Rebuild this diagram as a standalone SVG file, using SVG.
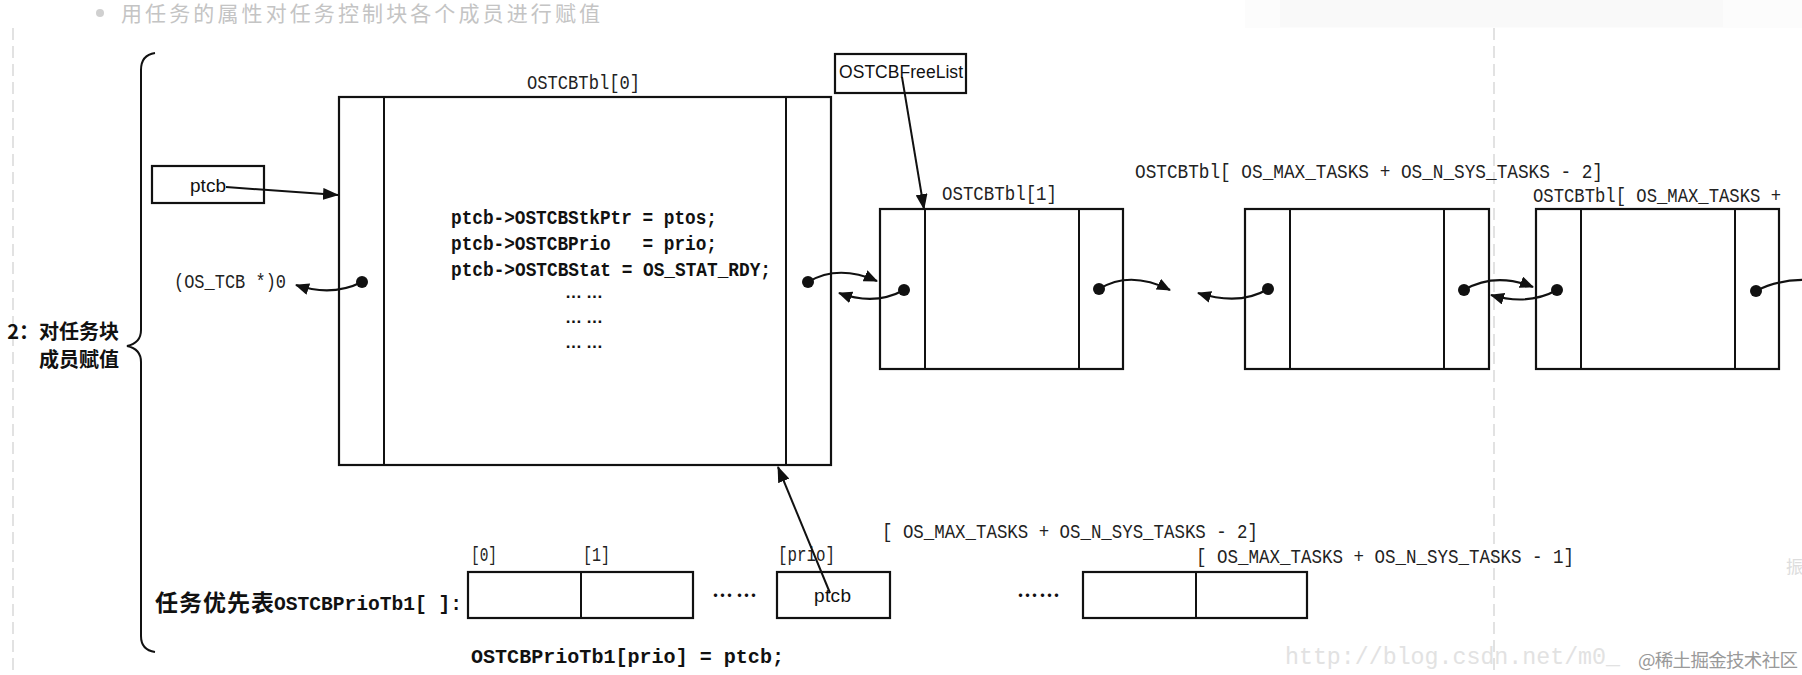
<svg xmlns="http://www.w3.org/2000/svg" width="1802" height="675" viewBox="0 0 1802 675">
<style>
.box{fill:none;stroke:#111;stroke-width:2.2}
.ln{fill:none;stroke:#111;stroke-width:2}
.cv{fill:none;stroke:#111;stroke-width:2.2}
.dash{stroke:#cfcfcf;stroke-width:1.2;stroke-dasharray:12 6}
.mono{font-family:"Liberation Mono",monospace;font-size:19.5px;fill:#222}
.code{font-family:"Liberation Mono",monospace;font-size:20px;font-weight:bold;fill:#111;white-space:pre}
.dots{font-family:"Liberation Sans",Arial,sans-serif;font-size:17px;font-weight:bold;fill:#111}
.sans{font-family:"Liberation Sans",Arial,sans-serif;fill:#111}
.cjk{font-family:"Noto Sans CJK SC",sans-serif}
</style>
<defs>
<marker id="ah" viewBox="0 0 16 12" refX="15" refY="6" markerWidth="16" markerHeight="12" markerUnits="userSpaceOnUse" orient="auto"><path d="M0,0 L16,6 L0,12 z" fill="#111"/></marker>
<marker id="ahs" viewBox="0 0 14 12" refX="13" refY="6" markerWidth="14" markerHeight="12" markerUnits="userSpaceOnUse" orient="auto"><path d="M0,0 L14,6 L0,12 z" fill="#111"/></marker>
</defs>
<rect width="1802" height="675" fill="#fff"/>
<rect x="1245" y="0" width="557" height="28" fill="#fcfcfc"/>
<rect x="1280" y="0" width="443" height="27" fill="#f9f9f9"/>
<g id="title">
<circle cx="100" cy="13" r="4" fill="#d0d0d0"/>
<text x="121" y="21" class="cjk" font-size="21" fill="#c4c4c4" textLength="479">用任务的属性对任务控制块各个成员进行赋值</text>
</g>
<line class="dash" x1="13" y1="28" x2="13" y2="675"/>
<line class="dash" x1="1494" y1="28" x2="1494" y2="675"/>
<g id="brace">
<path class="ln" d="M155,53 Q141,55 141,70 L141,330 Q141,343 127,346 Q141,349 141,362 L141,636 Q141,650 155,652"/>
<text x="119" y="339" class="cjk" font-size="20" font-weight="bold" fill="#111" text-anchor="end">2：对任务块</text>
<text x="119" y="367" class="cjk" font-size="20" font-weight="bold" fill="#111" text-anchor="end">成员赋值</text>
</g>
<g id="tbl0">
<rect class="box" x="339" y="97" width="492" height="368"/>
<line class="ln" x1="384" y1="97" x2="384" y2="465"/>
<line class="ln" x1="786" y1="97" x2="786" y2="465"/>
<text x="527" y="89" class="mono" textLength="113" lengthAdjust="spacingAndGlyphs">OSTCBTbl[0]</text>
<text x="451" y="224" class="code" textLength="266" lengthAdjust="spacingAndGlyphs">ptcb-&gt;OSTCBStkPtr = ptos;</text>
<text x="451" y="250" class="code" textLength="266" lengthAdjust="spacingAndGlyphs">ptcb-&gt;OSTCBPrio   = prio;</text>
<text x="451" y="276" class="code" textLength="320" lengthAdjust="spacingAndGlyphs">ptcb-&gt;OSTCBStat = OS_STAT_RDY;</text>
<text x="565" y="298" class="dots" textLength="38">……</text>
<text x="565" y="323" class="dots" textLength="38">……</text>
<text x="565" y="348" class="dots" textLength="38">……</text>
</g>
<g id="ptcb">
<rect class="box" x="152" y="166" width="112" height="37"/>
<text x="190" y="192" class="sans" font-size="19" textLength="36">ptcb</text>
</g>
<g id="null">
<text x="174" y="288" class="mono" textLength="112" lengthAdjust="spacingAndGlyphs">(OS_TCB *)0</text>
</g>
<g id="freelist">
<rect class="box" x="835" y="54" width="131" height="39"/>
<text x="839" y="78" class="sans" font-size="17.5" textLength="124">OSTCBFreeList</text>
</g>
<g id="tbl1">
<rect class="box" x="880" y="209" width="243" height="160"/>
<line class="ln" x1="925" y1="209" x2="925" y2="369"/>
<line class="ln" x1="1079" y1="209" x2="1079" y2="369"/>
<text x="942" y="200" class="mono" textLength="115" lengthAdjust="spacingAndGlyphs">OSTCBTbl[1]</text>
</g>
<g id="tbl2">
<rect class="box" x="1245" y="209" width="244" height="160"/>
<line class="ln" x1="1290" y1="209" x2="1290" y2="369"/>
<line class="ln" x1="1444" y1="209" x2="1444" y2="369"/>
<text x="1135" y="178" class="mono" textLength="468" lengthAdjust="spacingAndGlyphs">OSTCBTbl[ OS_MAX_TASKS + OS_N_SYS_TASKS - 2]</text>
</g>
<g id="tbl3">
<rect class="box" x="1536" y="209" width="243" height="160"/>
<line class="ln" x1="1581" y1="209" x2="1581" y2="369"/>
<line class="ln" x1="1735" y1="209" x2="1735" y2="369"/>
<text x="1533" y="202" class="mono" font-size="17" textLength="248" lengthAdjust="spacingAndGlyphs">OSTCBTbl[ OS_MAX_TASKS +</text>
</g>
<g id="priotbl">
<text x="155" y="611" class="cjk" font-size="23" font-weight="bold" fill="#111" textLength="119">任务优先表</text>
<text x="274" y="610" class="code" font-size="21" textLength="188" lengthAdjust="spacingAndGlyphs">OSTCBPrioTb1[ ]:</text>
<rect class="box" x="468" y="572" width="225" height="46"/>
<line class="ln" x1="581" y1="572" x2="581" y2="618"/>
<text x="471" y="561" class="mono" font-size="17" textLength="26" lengthAdjust="spacingAndGlyphs">[0]</text>
<text x="583" y="561" class="mono" font-size="17" textLength="27" lengthAdjust="spacingAndGlyphs">[1]</text>
<text x="712" y="603" class="cjk" font-size="21" font-weight="bold" fill="#111" textLength="45">……</text>
<rect class="box" x="777" y="572" width="113" height="46"/>
<text x="778" y="561" class="mono" font-size="17" textLength="57" lengthAdjust="spacingAndGlyphs">[prio]</text>
<text x="814" y="602" class="sans" font-size="19" textLength="37">ptcb</text>
<text x="882" y="538" class="mono" textLength="376" lengthAdjust="spacingAndGlyphs">[ OS_MAX_TASKS + OS_N_SYS_TASKS - 2]</text>
<text x="1196" y="563" class="mono" textLength="378" lengthAdjust="spacingAndGlyphs">[ OS_MAX_TASKS + OS_N_SYS_TASKS - 1]</text>
<text x="1017" y="603" class="cjk" font-size="21" font-weight="bold" fill="#111" textLength="43">……</text>
<rect class="box" x="1083" y="572" width="224" height="46"/>
<line class="ln" x1="1196" y1="572" x2="1196" y2="618"/>
<text x="471" y="663" class="code" font-size="22" textLength="313" lengthAdjust="spacingAndGlyphs">OSTCBPrioTb1[prio] = ptcb;</text>
</g>
<g id="connectors">
<line class="ln" x1="226" y1="187" x2="338" y2="195" marker-end="url(#ah)"/>
<line class="ln" x1="902" y1="77" x2="924" y2="209" marker-end="url(#ah)"/>
<line class="ln" x1="830" y1="593" x2="778" y2="467" marker-end="url(#ah)"/>
<circle cx="362" cy="282" r="6" fill="#111"/>
<path class="cv" d="M362,282 Q332,297 296,285" marker-end="url(#ahs)"/>
<circle cx="808" cy="282" r="6" fill="#111"/>
<path class="cv" d="M808,282 Q838,264 877,281" marker-end="url(#ahs)"/>
<circle cx="904" cy="290" r="6" fill="#111"/>
<path class="cv" d="M904,290 Q875,306 839,293" marker-end="url(#ahs)"/>
<circle cx="1099" cy="289" r="6" fill="#111"/>
<path class="cv" d="M1099,289 Q1130,270 1170,290" marker-end="url(#ahs)"/>
<circle cx="1268" cy="289" r="6" fill="#111"/>
<path class="cv" d="M1268,289 Q1240,306 1198,293" marker-end="url(#ahs)"/>
<circle cx="1464" cy="290" r="6" fill="#111"/>
<path class="cv" d="M1464,290 Q1495,272 1533,287" marker-end="url(#ahs)"/>
<circle cx="1557" cy="290" r="6" fill="#111"/>
<path class="cv" d="M1557,290 Q1528,306 1491,295" marker-end="url(#ahs)"/>
<circle cx="1756" cy="291" r="6" fill="#111"/>
<path class="cv" d="M1756,291 Q1778,279 1810,280"/>
</g>
<g id="watermark">
<text x="1285" y="664" font-family="Liberation Mono,monospace" font-size="23" fill="#e2e2e2" textLength="335" lengthAdjust="spacingAndGlyphs">http://blog.csdn.net/m0_</text>
<text x="1638" y="667" class="cjk" font-size="18.5" fill="#999" textLength="160">@稀土掘金技术社区</text>
<text x="1786" y="573" class="cjk" font-size="17" fill="#ddd">振</text>
</g>
</svg>
